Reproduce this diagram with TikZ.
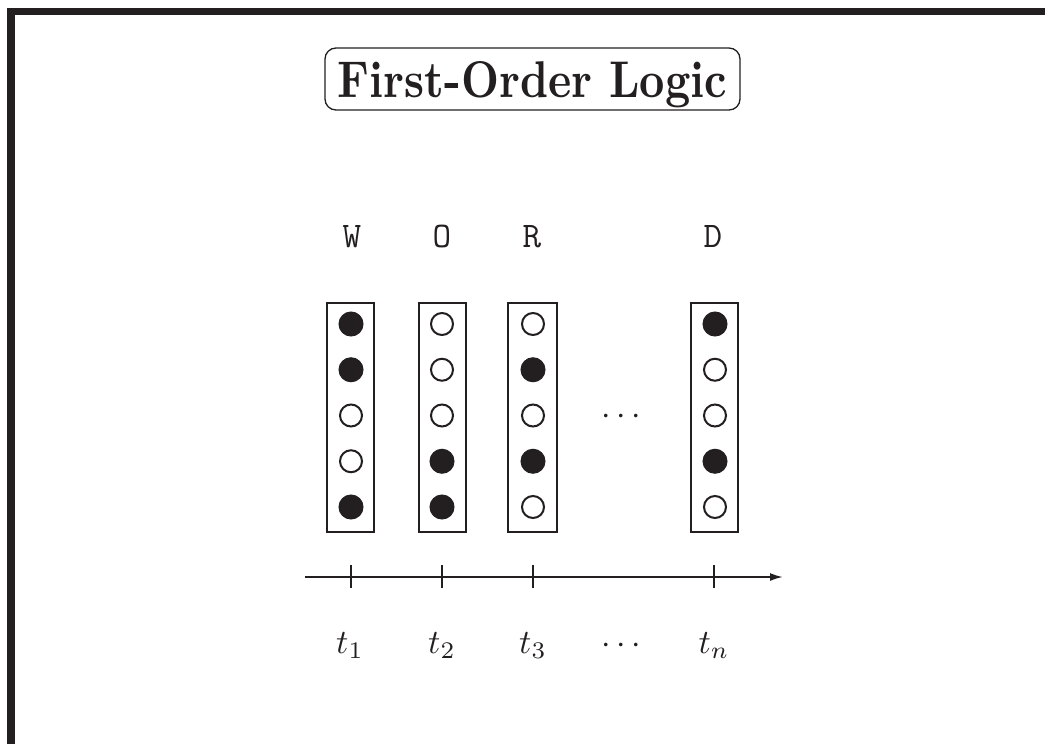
\documentclass[tikz,border=0pt]{standalone}
\usepackage{fontspec}
\usetikzlibrary{arrows.meta}
\definecolor{ink}{RGB}{35,31,32}
\newcommand{\bigmath}[1]{\scalebox{3.4}{$#1$}}
\tikzset{
  framebar/.style={fill=ink, draw=none},
  titlebox/.style={draw=ink, line width=1.3pt, rounded corners=11pt, inner xsep=0pt, inner ysep=0pt,
    minimum width=415pt, text height=49pt, text depth=13pt, anchor=base, text=ink},
  letter/.style={anchor=base, text=ink, font=\fontsize{36}{40}\selectfont\ttfamily},
  colbox/.style={draw=ink, line width=2pt, minimum width=47pt, minimum height=229pt, inner sep=0pt},
  bitoff/.style={circle, draw=ink, line width=2pt, minimum size=22pt, inner sep=0pt},
  biton/.style={circle, fill=ink, draw=ink, line width=1pt, minimum size=24pt, inner sep=0pt},
  tlabel/.style={anchor=base, text=ink},
  axisline/.style={draw=ink, line width=1.8pt, -{Latex[length=13pt,width=8pt]}},
  tickline/.style={draw=ink, line width=1.8pt},
}
\begin{document}
\begin{tikzpicture}[x=1pt,y=-1pt]
\useasboundingbox (0,0) rectangle (1045,744);
% frame
\path[framebar] (7,8) rectangle (1045,15);
\path[framebar] (7,8) rectangle (15,744);
% title
\node[titlebox] (title) at (532.5,97) {\resizebox{389pt}{36pt}{\bfseries\addfontfeatures{FakeBold=1.5}First-Order Logic}};
% letters
\node[letter] (lW) at (352,247) {W};
\node[letter] (lO) at (442,247) {O};
\node[letter] (lR) at (532,247) {R};
\node[letter] (lD) at (713,247) {D};
% column boxes
\node[colbox] (c1) at (350.5,417.5) {};
\node[colbox] (c2) at (442.5,417.5) {};
\node[colbox, minimum width=49pt] (c3) at (532.5,417.5) {};
\node[colbox] (c4) at (714.5,417.5) {};
% bits
\foreach \x/\name/\pat in {351/a/{1,1,0,0,1}, 442/b/{0,0,0,1,1}, 533/c/{0,1,0,1,0}, 715/d/{1,0,0,1,0}}{
  \foreach \v [count=\i] in \pat {
    \pgfmathsetmacro{\yy}{324+45.75*(\i-1)}
    \ifnum\v=1
      \node[biton] (\name\i) at (\x,\yy) {};
    \else
      \node[bitoff] (\name\i) at (\x,\yy) {};
    \fi
  }
}
\node[text=ink] (mdots) at (621,417) {\bigmath{\cdots}};
% axis
\coordinate (axL) at (305,577);
\coordinate (axR) at (783,577);
\draw[axisline] (axL) -- (axR);
\foreach \x/\n in {351/1,442/2,533/3}{
  \coordinate (tt\n) at (\x,565);
  \coordinate (tb\n) at (\x,588);
  \draw[tickline] (tt\n) -- (tb\n);
}
\coordinate (ttn) at (714,565);
\coordinate (tbn) at (714,588);
\draw[tickline, line width=2.6pt] (ttn) -- (tbn);
% time labels
\node[tlabel] (t1) at (350,653) {\bigmath{t_1}};
\node[tlabel] (t2) at (442,653) {\bigmath{t_2}};
\node[tlabel] (t3) at (533,653) {\bigmath{t_3}};
\node[tlabel] (tdots) at (621,653) {\bigmath{\cdots}};
\node[tlabel] (tn) at (714,653) {\bigmath{t_n}};
\end{tikzpicture}
\end{document}
